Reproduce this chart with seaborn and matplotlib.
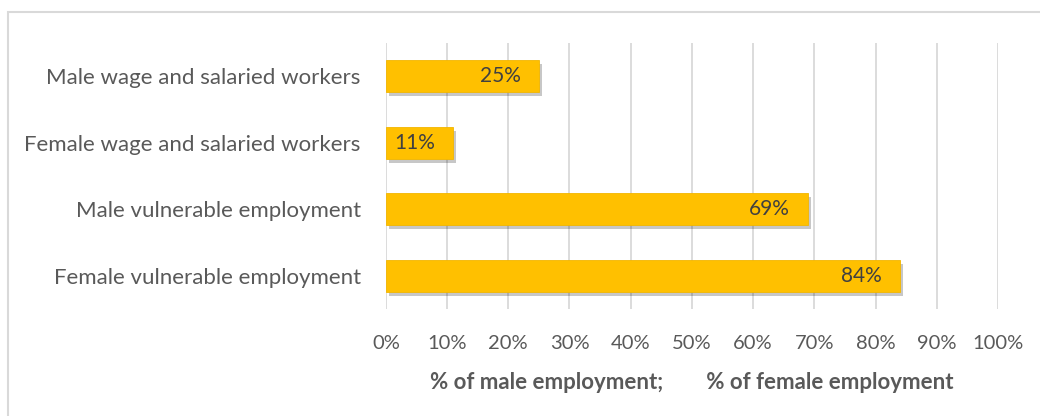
import matplotlib
matplotlib.use("Agg")
import matplotlib.pyplot as plt
import matplotlib.patheffects as pe
from matplotlib.patches import Rectangle
from matplotlib.ticker import PercentFormatter
import pandas as pd
import seaborn as sns

# categories and values (% of employment)
groups = ['Male wage and salaried workers', 'Female wage and salaried workers',
          'Male vulnerable employment', 'Female vulnerable employment']
shares = [25, 11, 69, 84]

sns.set_theme(style="white")
plt.rcParams['font.family'] = ['Lato', 'DejaVu Sans']

df = pd.DataFrame({'group': groups, 'share': shares})

fig = plt.figure(figsize=(10.4, 4.16), dpi=100)
ax = fig.add_axes([0.371, 0.257, 0.5886, 0.640])

# light frame around the chart area, as in the source
fig.patches.append(Rectangle((8 / 1040, -0.1), 1.1, 1 - 12 / 416 + 0.1,
                             transform=fig.transFigure, fill=False,
                             edgecolor='#d9d9d9', linewidth=1.5))

sns.barplot(data=df, y='group', x='share', color='#FFC000', width=0.48,
            saturation=1, ax=ax, orient='h')

for bar in ax.patches:
    bar.set_edgecolor('#F2B600')
    bar.set_linewidth(0.6)
    bar.set_path_effects([pe.SimplePatchShadow(offset=(2, -3), shadow_rgbFace='#000000', alpha=0.22),
                          pe.Normal()])

for bar, val in zip(ax.patches, shares):
    ax.annotate(f'{val}%', (bar.get_x() + bar.get_width(), bar.get_y() + bar.get_height() / 2),
                xytext=(-13, 0), textcoords='offset points',
                ha='right', va='center', fontsize=15, color='#404040')

ax.set_xlim(0, 100)
ax.set_xticks(range(0, 101, 10))
ax.xaxis.set_major_formatter(PercentFormatter(decimals=0))
ax.grid(axis='x', color='#d9d9d9', linewidth=1.3)
ax.set_axisbelow(True)
for s in ax.spines.values():
    s.set_visible(False)

ax.tick_params(axis='x', length=0, labelsize=14.5, colors='#595959', pad=19)
ax.tick_params(axis='y', length=0, labelsize=16, colors='#595959', pad=18)
ax.set_ylabel('')
ax.set_xlabel('% of male employment;        % of female employment',
              fontsize=16, fontweight='bold', color='#595959', labelpad=14)

fig.savefig('out.png', dpi=100)
